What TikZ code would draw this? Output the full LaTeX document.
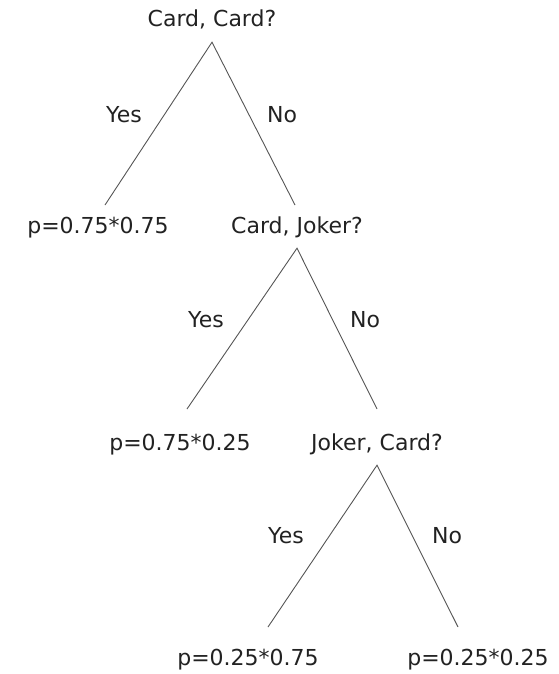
\documentclass[tikz,border=0pt]{standalone}
\usepackage{fontspec}
\setmainfont{DejaVu Sans}
\definecolor{textgray}{HTML}{222222}
\definecolor{linegray}{HTML}{555555}
\begin{document}
\begin{tikzpicture}[x=1pt,y=-1pt,
  lbl/.style={anchor=base, font=\fontsize{22}{26}\selectfont, text=textgray, inner xsep=0pt},
  question/.style={lbl, text height=16pt, text depth=5pt, inner ysep=10pt},
  outcome/.style={lbl, inner ysep=0pt},
  answer/.style={lbl, inner ysep=0pt},
  branch/.style={draw=linegray, line width=0.9pt},
  ]
\useasboundingbox (0,0) rectangle (558,674);

% questions
\node[question] (q1) at (212,27)  {Card, Card?};
\node[question] (q2) at (297,233) {Card, Joker?};
\node[question] (q3) at (377,450) {Joker, Card?};

% outcomes
\node[outcome] (p1) at (98,233)  {p=0.75*0.75};
\node[outcome] (p2) at (180,450) {p=0.75*0.25};
\node[outcome] (p3) at (248,665) {p=0.25*0.75};
\node[outcome] (p4) at (478,665) {p=0.25*0.25};

% free ends of the branches
\coordinate (e1l) at (105,205);
\coordinate (e1r) at (295,205);
\coordinate (e2l) at (187,409);
\coordinate (e2r) at (377,409);
\coordinate (e3l) at (268,627);
\coordinate (e3r) at (458,627);

% branches
\draw[branch] (e1l) -- (q1.south) -- (e1r);
\draw[branch] (e2l) -- (q2.south) -- (e2r);
\draw[branch] (e3l) -- (q3.south) -- (e3r);

% answers
\node[answer] (y1) at (124,123) {Yes};
\node[answer] (n1) at (282,123) {No};
\node[answer] (y2) at (206,327) {Yes};
\node[answer] (n2) at (365,327) {No};
\node[answer] (y3) at (286,543) {Yes};
\node[answer] (n3) at (447,543) {No};
\end{tikzpicture}
\end{document}
